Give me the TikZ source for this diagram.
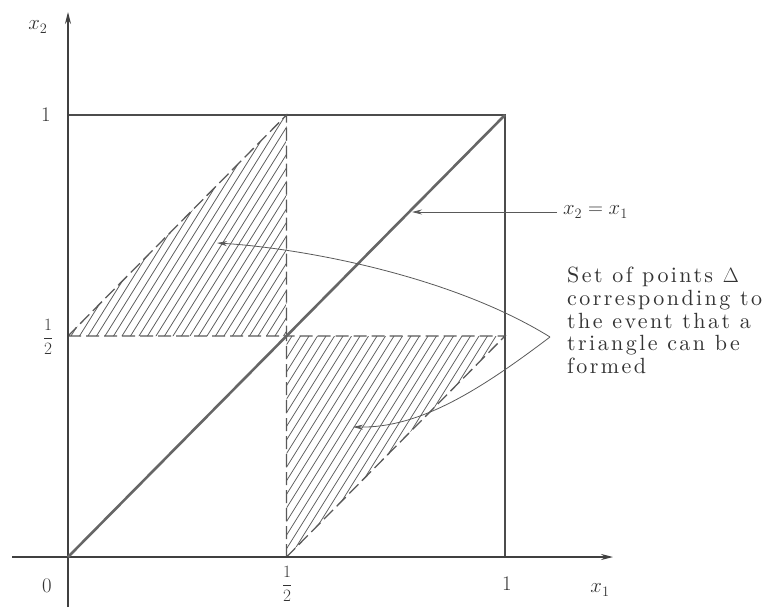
\documentclass[tikz,border=0pt]{standalone}
\usepackage{fontspec}
\usetikzlibrary{arrows.meta}
\newfontfamily\notefont{lmroman10-regular.otf}[LetterSpace=11]
\begin{document}
\begin{tikzpicture}[x=1pt,y=-1pt,
  ink/.style={draw=black!70, line width=1.1pt},
  dashedge/.style={draw=black!65, line width=1.3pt, dash pattern=on 13pt off 5pt},
  hatch/.style={draw=black!65, line width=0.75pt},
  lbl/.style={text=black!80, font=\fontsize{22}{26}\selectfont, inner sep=0pt},
  note/.style={text=black!80, font={\notefont\fontsize{22}{23}\selectfont}, inner sep=0pt, anchor=base west},
  ptr/.style={draw=black!65, line width=0.8pt, -{Stealth[length=10pt,width=5pt]}},
  axis/.style={draw=black!75, line width=1.2pt, -{Stealth[length=12pt,width=6pt]}}
]
\useasboundingbox (0,0) rectangle (766,610);
% key points
\coordinate (O) at (68,557);
\coordinate (A) at (505,557);
\coordinate (B) at (68,115);
\coordinate (C) at (505,115);
\coordinate (Hx) at (286.5,557);
\coordinate (Hy) at (68,336);
\coordinate (M) at (286.5,336);
\coordinate (Ht) at (286.5,115);
\coordinate (Hr) at (505,336);
\coordinate (xs) at (12,557);
\coordinate (xe) at (613,557);
\coordinate (ys) at (68,607);
\coordinate (ye) at (68,12);
% hatching
\begin{scope}
  \clip (Hy) -- (M) -- (Ht) -- cycle;
  \foreach \i in {-400,-391.5,...,600} \draw[hatch] (\i,600) -- ++(375,-600);
\end{scope}
\begin{scope}
  \clip (Hx) -- (M) -- (Hr) -- cycle;
  \foreach \i in {-400,-391.5,...,600} \draw[hatch] (\i,600) -- ++(375,-600);
\end{scope}
% square
\draw[ink] (B) -- (C) -- (A);
% dashed triangle edges
\draw[dashedge] (Hy) -- (M) -- (Ht) -- cycle;
\draw[dashedge] (Hx) -- (M) -- (Hr) -- cycle;
% axes
\draw[axis] (xs) -- (xe);
\draw[axis] (ys) -- (ye);
% diagonal
\draw[draw=black!60, line width=2.6pt] (O) -- (C);
% axis labels
\node[lbl] (lx2) at (38,27) {$x_2$};
\node[lbl] (l1y) at (46,115) {$1$};
\node[lbl, font=\fontsize{18}{20}\selectfont] (lhy) at (48,337) {$\displaystyle\frac{1}{2}$};
\node[lbl] (l0) at (47,586) {$0$};
\node[lbl, font=\fontsize{18}{20}\selectfont] (lhx) at (287,584) {$\displaystyle\frac{1}{2}$};
\node[lbl] (l1x) at (507,584) {$1$};
\node[lbl] (lx1) at (600,590) {$x_1$};
% x2 = x1 pointer
\node[lbl, anchor=west] (leq) at (563,212) {$x_2 = x_1$};
\coordinate (dtip) at (412,212);
\draw[ptr] ([xshift=-6pt]leq.west) -- (dtip);
% note
\node[note] (n1) at (567,282) {Set of points $\Delta$};
\node[note] (n2) at (567,305) {corresponding to};
\node[note] (n3) at (567,328) {the event that a};
\node[note] (n4) at (567,350) {triangle can be};
\node[note] (n5) at (567,373) {formed};
\coordinate (vx) at (550,337);
\coordinate (tu) at (217,243);
\coordinate (tl) at (353,427);
\draw[ptr] (vx) .. controls (450,275) and (300,248) .. (tu);
\draw[ptr] (vx) .. controls (480,390) and (420,428) .. (tl);
\end{tikzpicture}
\end{document}
